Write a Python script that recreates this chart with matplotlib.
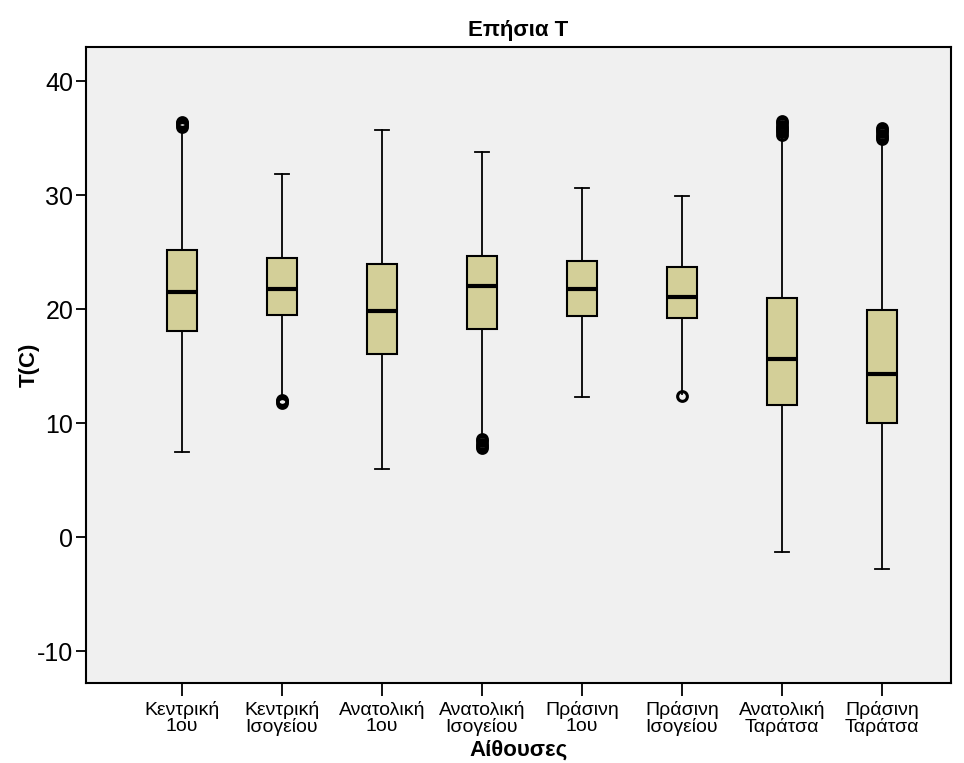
import matplotlib.pyplot as plt

plt.rcParams['axes.unicode_minus'] = False

# Annual temperature per room (quartiles, whiskers and outliers)
rooms = ['Κεντρική\n1ου', 'Κεντρική\nΙσογείου', 'Ανατολική\n1ου', 'Ανατολική\nΙσογείου',
         'Πράσινη\n1ου', 'Πράσινη\nΙσογείου', 'Ανατολική\nΤαράτσα', 'Πράσινη\nΤαράτσα']
medians = [21.5, 21.8, 19.8, 22.0, 21.8, 21.1, 15.6, 14.3]
q1 = [18.1, 19.5, 16.1, 18.3, 19.4, 19.2, 11.6, 10.0]
q3 = [25.2, 24.5, 24.0, 24.7, 24.2, 23.7, 21.0, 19.9]
whisker_low = [7.5, 12.1, 6.0, 8.9, 12.3, 12.6, -1.3, -2.8]
whisker_high = [35.9, 31.9, 35.7, 33.8, 30.6, 29.9, 35.1, 34.7]
outliers = [
    [36.0, 36.2, 36.3, 36.4],
    [11.8, 11.9, 12.0],
    [],
    [7.8, 8.0, 8.2, 8.4, 8.6],
    [],
    [12.4],
    [35.3, 35.5, 35.7, 35.9, 36.1, 36.3, 36.5],
    [34.9, 35.1, 35.3, 35.5, 35.7, 35.9],
]

stats = []
for i in range(len(rooms)):
    stats.append({'med': medians[i], 'q1': q1[i], 'q3': q3[i],
                  'whislo': whisker_low[i], 'whishi': whisker_high[i],
                  'fliers': outliers[i]})

fig = plt.figure(figsize=(9.64, 7.63), dpi=100)
ax = fig.add_axes([0.0892, 0.1048, 0.8973, 0.8336])
ax.set_facecolor('#f0f0f0')

positions = list(range(1, len(rooms) + 1))
parts = ax.bxp(stats, positions=positions, widths=0.3, patch_artist=True,
               boxprops=dict(facecolor='#d3cf98', edgecolor='black', linewidth=1.5),
               medianprops=dict(color='black', linewidth=3),
               whiskerprops=dict(color='black', linewidth=1.3),
               capprops=dict(color='black', linewidth=1.3),
               capwidths=0.14,
               flierprops=dict(marker='o', markerfacecolor='none', markeredgecolor='black',
                               markersize=7, markeredgewidth=2.2))

# no cap where the whisker runs into outliers
for i, fl in enumerate(outliers):
    if any(v < whisker_low[i] for v in fl):
        parts['caps'][2 * i].set_visible(False)
    if any(v > whisker_high[i] for v in fl):
        parts['caps'][2 * i + 1].set_visible(False)

ax.set_xlim(0.04, 8.69)
ax.set_ylim(-12.8, 43)
ax.set_yticks([-10, 0, 10, 20, 30, 40])
ax.set_xticks(positions)
ax.set_xticklabels(rooms, family='Liberation Sans', fontsize=14, linespacing=0.95)
for lbl in ax.get_yticklabels():
    lbl.set_family('Liberation Sans')
    lbl.set_fontsize(18)

ax.tick_params(axis='y', direction='out', length=7, width=1.3, pad=2)
ax.tick_params(axis='x', direction='out', length=9, width=1.3, pad=4)
for sp in ax.spines.values():
    sp.set_linewidth(1.5)
    sp.set_color('black')

ax.set_ylabel('T(C)', family='Liberation Sans', fontsize=16, fontweight='bold', labelpad=-2)
ax.set_xlabel('Αίθουσες', family='Liberation Sans', fontsize=16, fontweight='bold', labelpad=2)
ax.set_title('Επήσια T', family='Liberation Sans', fontsize=16, fontweight='bold', pad=8)

fig.savefig('out.png', dpi=100)
